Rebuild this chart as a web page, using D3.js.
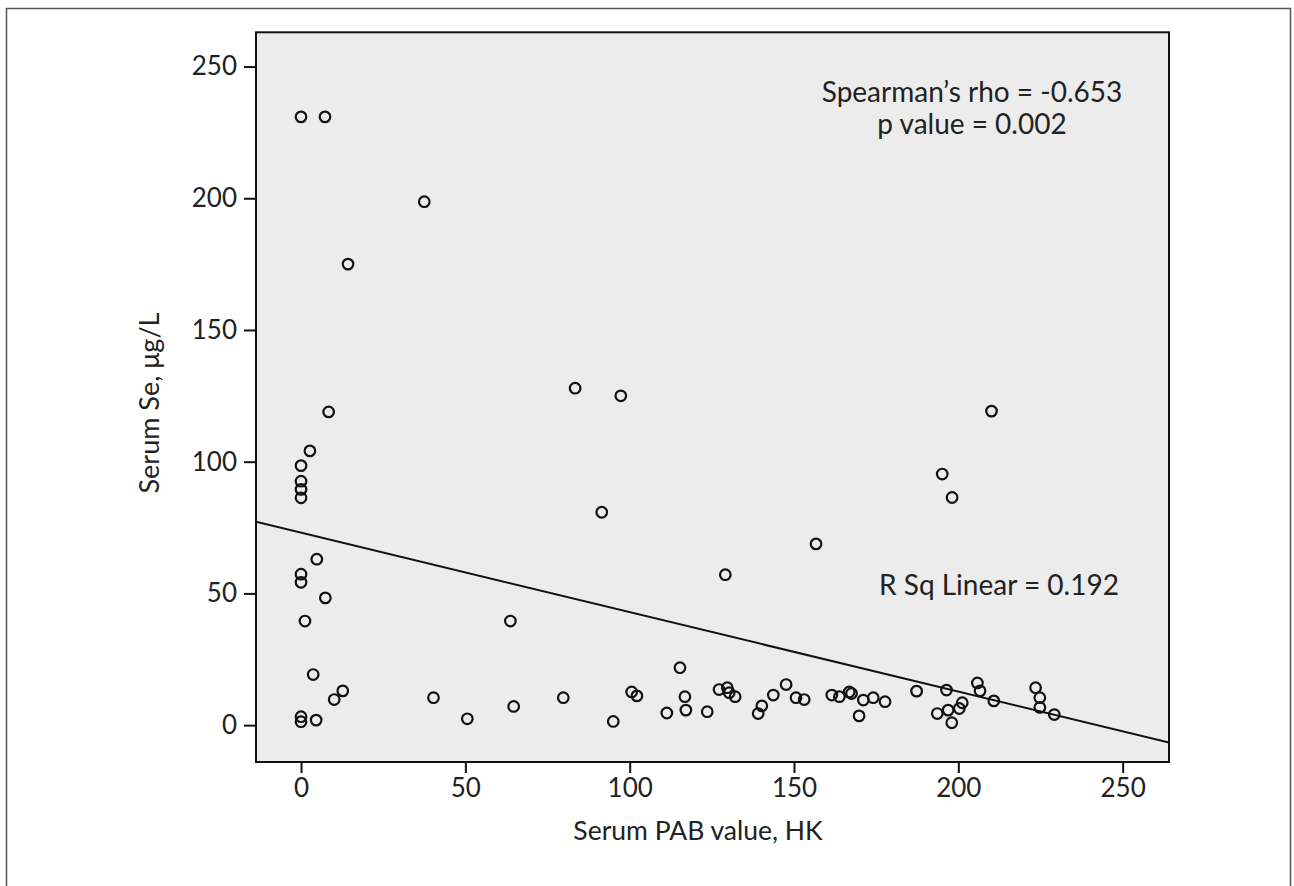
<!DOCTYPE html>
<html>
<head>
<meta charset="utf-8">
<script src="https://cdn.jsdelivr.net/npm/d3@7"></script>
<style>
  html, body { margin: 0; padding: 0; background: #fff; }
  svg { display: block; }
  text { font-family: Lato, "Open Sans", sans-serif; fill: #222; }
</style>
</head>
<body>
<svg id="chart" width="1294" height="886"></svg>
<script>
// ---- data ----
const pabValues = [0, 7.3, 37.5, 14.3, 8.4, 2.7, 0, 0, 0, 0,
  4.8, 0, 0, 7.4, 1.2, 63.7, 3.7, 12.7, 10.1, 40.3,
  0, 0, 4.6, 50.6, 64.7, 79.8, 95.0, 100.6, 102.2, 83.4,
  97.3, 91.5, 129.1, 115.3, 111.3, 116.8, 117.1, 123.6, 127.2, 129.7,
  130.3, 132.1, 139.1, 140.2, 143.7, 147.6, 150.6, 153.1, 161.5, 163.8,
  166.8, 167.5, 169.8, 171.1, 174.1, 177.7, 187.3, 196.4, 193.6, 196.9,
  198.0, 200.3, 201.2, 205.8, 206.6, 210.8, 223.5, 224.8, 224.8, 229.2,
  210.1, 195.1, 198.1, 156.7];
const seValues = [230.9, 230.9, 198.7, 175.0, 118.9, 104.1, 98.5, 92.6, 89.5, 86.3,
  63.0, 57.3, 54.2, 48.3, 39.5, 39.5, 19.2, 13.0, 9.7, 10.4,
  3.2, 1.3, 1.9, 2.4, 7.1, 10.4, 1.4, 12.6, 11.1, 127.9,
  125.0, 80.8, 57.1, 21.8, 4.6, 10.8, 5.7, 5.1, 13.5, 14.2,
  12.3, 10.8, 4.4, 7.3, 11.4, 15.4, 10.4, 9.7, 11.4, 10.8,
  12.6, 12.0, 3.5, 9.5, 10.4, 8.9, 12.9, 13.3, 4.4, 5.7,
  0.9, 6.3, 8.5, 16.0, 13.0, 9.2, 14.2, 10.4, 6.7, 4.0,
  119.2, 95.3, 86.4, 68.8];
const fitIntercept = 73.07;
const fitSlope = -0.3017;
const xTicks = [0, 50, 100, 150, 200, 250];
const yTicks = [0, 50, 100, 150, 200, 250];
const xDomain = [-13.7, 264.1];
const yDomain = [-14, 263];
const xTitle = "Serum PAB value, HK";
const yTitle = "Serum Se, \u03bcg/L";
const statLines = ["Spearman\u2019s rho = -0.653", "p value = 0.002"];
const fitLabel = "R Sq Linear = 0.192";

// ---- layout ----
const svg = d3.select("#chart");
const plot = { left: 256, top: 32.3, right: 1169, bottom: 762 };

// outer frame
svg.append("path")
  .attr("d", "M6.5,890 V8.5 H1290.5 V890")
  .attr("fill", "none").attr("stroke", "#555").attr("stroke-width", 1.5);

const x = d3.scaleLinear().domain(xDomain).range([plot.left, plot.right]);
const y = d3.scaleLinear().domain(yDomain).range([plot.bottom, plot.top]);

// plot background
svg.append("rect")
  .attr("x", plot.left).attr("y", plot.top)
  .attr("width", plot.right - plot.left).attr("height", plot.bottom - plot.top)
  .attr("fill", "#ececec");

// axes
const xAxis = svg.append("g")
  .attr("transform", `translate(0,${plot.bottom})`)
  .call(d3.axisBottom(x).tickValues(xTicks).tickSize(11).tickPadding(6).tickFormat(d3.format("d")));
const yAxis = svg.append("g")
  .attr("transform", `translate(${plot.left},0)`)
  .call(d3.axisLeft(y).tickValues(yTicks).tickSize(12).tickPadding(7).tickFormat(d3.format("d")));
[xAxis, yAxis].forEach(g => {
  g.select(".domain").remove();
  g.selectAll(".tick line").attr("stroke", "#111").attr("stroke-width", 2);
  g.selectAll(".tick text").attr("fill", "#333").style("font-size", "26px")
    .style("font-family", "Lato, 'Open Sans', sans-serif");
});

// clip for the fit line
svg.append("clipPath").attr("id", "clip").append("rect")
  .attr("x", plot.left).attr("y", plot.top)
  .attr("width", plot.right - plot.left).attr("height", plot.bottom - plot.top);

// fit line
const fitPts = xDomain.map(v => [v, fitIntercept + fitSlope * v]);
svg.append("path")
  .attr("clip-path", "url(#clip)")
  .attr("d", d3.line().x(d => x(d[0])).y(d => y(d[1]))(fitPts))
  .attr("fill", "none").attr("stroke", "#111").attr("stroke-width", 2);

// points
const pts = pabValues.map((v, i) => ({ px: v, se: seValues[i] }));
svg.append("g").selectAll("circle").data(pts).join("circle")
  .attr("cx", d => x(d.px)).attr("cy", d => y(d.se)).attr("r", 5.3)
  .attr("fill", "none").attr("stroke", "#111").attr("stroke-width", 2.2);

// plot border
svg.append("rect")
  .attr("x", plot.left).attr("y", plot.top)
  .attr("width", plot.right - plot.left).attr("height", plot.bottom - plot.top)
  .attr("fill", "none").attr("stroke", "#111").attr("stroke-width", 2);

// annotations
svg.append("text").attr("x", 972).attr("y", 102).attr("text-anchor", "middle")
  .style("font-size", "28px").text(statLines[0]);
svg.append("text").attr("x", 972).attr("y", 134).attr("text-anchor", "middle")
  .style("font-size", "28px").text(statLines[1]);
svg.append("text").attr("x", 999).attr("y", 595).attr("text-anchor", "middle")
  .style("font-size", "28px").text(fitLabel);

// axis titles
svg.append("text").attr("x", 698).attr("y", 840).attr("text-anchor", "middle")
  .attr("fill", "#333").style("font-size", "26.5px").text(xTitle);
svg.append("text").attr("transform", "translate(159,403) rotate(-90)")
  .attr("text-anchor", "middle").attr("fill", "#333")
  .style("font-size", "27px").text(yTitle);
</script>
</body>
</html>
